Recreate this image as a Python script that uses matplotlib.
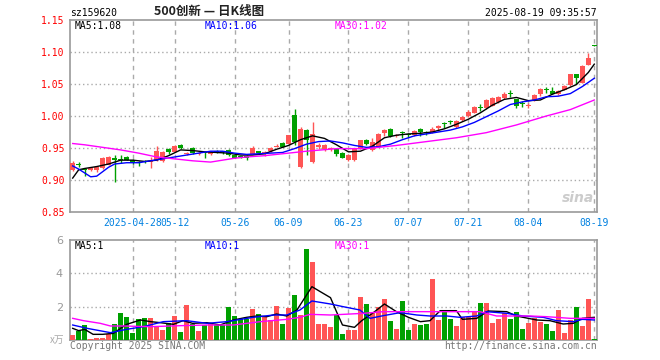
import matplotlib
matplotlib.use("Agg")
import matplotlib.pyplot as plt
import numpy as np

# 日K数据 (2025-04-14 ~ 2025-08-19, 88 个交易日)
opens = [0.916, 0.925, 0.917, 0.916, 0.915, 0.918, 0.924, 0.933, 0.933, 0.936,
         0.932, 0.927, 0.929, 0.928, 0.931, 0.929, 0.948, 0.944, 0.954, 0.941,
         0.950, 0.941, 0.943, 0.940, 0.945, 0.944, 0.947, 0.939, 0.937, 0.9375,
         0.941, 0.945, 0.942, 0.945, 0.952, 0.958, 0.956, 1.001, 0.921, 0.978,
         0.928, 0.951, 0.948, 0.949, 0.948, 0.942, 0.931, 0.931, 0.950, 0.963,
         0.947, 0.952, 0.974, 0.980, 0.969, 0.974, 0.971, 0.970, 0.980, 0.974,
         0.974, 0.981, 0.988, 0.991, 0.983, 0.993, 1.000, 1.005, 1.014, 1.012,
         1.016, 1.022, 1.028, 1.036, 1.026, 1.020, 1.016, 1.025, 1.034, 1.042,
         1.039, 1.034, 1.041, 1.048, 1.065, 1.052, 1.080, 1.111]
highs = [0.929, 0.928, 0.919, 0.920, 0.922, 0.936, 0.938, 0.939, 0.939, 0.938,
         0.933, 0.929, 0.931, 0.936, 0.953, 0.946, 0.950, 0.955, 0.956, 0.944,
         0.951, 0.944, 0.944, 0.945, 0.947, 0.945, 0.948, 0.940, 0.938, 0.939,
         0.953, 0.946, 0.946, 0.951, 0.956, 0.959, 0.971, 1.011, 0.983, 0.979,
         0.990, 0.958, 0.957, 0.951, 0.949, 0.943, 0.940, 0.949, 0.963, 0.964,
         0.966, 0.973, 0.979, 0.981, 0.972, 0.976, 0.973, 0.978, 0.981, 0.976,
         0.983, 0.986, 0.991, 0.994, 0.994, 1.000, 1.010, 1.016, 1.018, 1.026,
         1.029, 1.031, 1.037, 1.040, 1.027, 1.024, 1.020, 1.034, 1.044, 1.046,
         1.045, 1.041, 1.048, 1.066, 1.066, 1.079, 1.099, 1.111]
lows = [0.914, 0.920, 0.906, 0.914, 0.912, 0.917, 0.923, 0.897, 0.926, 0.931,
        0.925, 0.922, 0.926, 0.918, 0.930, 0.928, 0.940, 0.943, 0.949, 0.939,
        0.940, 0.939, 0.934, 0.939, 0.942, 0.940, 0.938, 0.934, 0.934, 0.932,
        0.940, 0.941, 0.938, 0.944, 0.951, 0.951, 0.955, 0.955, 0.919, 0.939,
        0.926, 0.948, 0.946, 0.946, 0.938, 0.934, 0.930, 0.930, 0.949, 0.955,
        0.946, 0.951, 0.969, 0.967, 0.967, 0.965, 0.967, 0.969, 0.968, 0.971,
        0.973, 0.977, 0.982, 0.988, 0.982, 0.992, 0.999, 1.004, 1.008, 1.011,
        1.015, 1.021, 1.027, 1.030, 1.012, 1.014, 1.012, 1.024, 1.032, 1.036,
        1.034, 1.033, 1.040, 1.047, 1.050, 1.051, 1.079, 1.110]
closes = [0.926, 0.924, 0.916, 0.919, 0.920, 0.935, 0.936, 0.932, 0.931, 0.932,
          0.926, 0.926, 0.928, 0.930, 0.946, 0.944, 0.944, 0.953, 0.950, 0.942,
          0.942, 0.942, 0.942, 0.944, 0.944, 0.943, 0.939, 0.935, 0.936, 0.934,
          0.950, 0.942, 0.943, 0.950, 0.953, 0.952, 0.970, 0.960, 0.980, 0.962,
          0.972, 0.955, 0.955, 0.950, 0.941, 0.935, 0.939, 0.948, 0.962, 0.956,
          0.960, 0.972, 0.978, 0.968, 0.970, 0.973, 0.970, 0.977, 0.975, 0.973,
          0.980, 0.984, 0.987, 0.990, 0.992, 0.998, 1.007, 1.014, 1.013, 1.025,
          1.028, 1.030, 1.035, 1.035, 1.016, 1.019, 1.017, 1.033, 1.042, 1.041,
          1.035, 1.039, 1.047, 1.065, 1.059, 1.078, 1.091, 1.110]
# 成交量 (万)
volumes = [0.30, 0.56, 0.90, 0.06, 0.12, 0.14, 0.34, 0.94, 1.64, 1.38,
           0.44, 1.24, 1.32, 1.32, 0.80, 0.60, 1.04, 1.44, 0.48, 2.10,
           0.96, 0.56, 0.88, 1.04, 0.88, 0.88, 1.96, 1.44, 1.26, 1.28,
           1.86, 1.54, 1.36, 1.20, 2.04, 0.96, 1.92, 2.70, 1.50, 5.46,
           4.68, 0.96, 0.96, 0.76, 1.50, 0.36, 0.60, 0.60, 2.60, 2.16,
           1.60, 1.96, 2.46, 1.14, 0.66, 2.34, 0.60, 0.96, 0.90, 0.96,
           3.66, 1.20, 1.74, 1.26, 0.84, 1.36, 1.36, 1.70, 2.24, 2.24,
           1.04, 1.26, 1.60, 1.26, 1.70, 0.66, 1.04, 1.34, 1.10, 0.96,
           0.56, 1.80, 0.44, 1.20, 1.98, 0.84, 2.46, 0.06]

# 均线 (从图上读取: 位置索引, 数值)
ma5_idx = [0, 1, 2, 4, 6, 8, 10, 12, 14, 16, 18, 20, 22, 24, 26, 28, 30, 32, 34, 36,
           38, 40, 42, 44, 46, 48, 50, 52, 54, 56, 58, 60, 62, 64, 66, 68, 70, 72, 74,
           76, 78, 80, 82, 84, 86, 87]
ma5_val = [0.903, 0.916, 0.918, 0.921, 0.925, 0.931, 0.931, 0.929, 0.931, 0.938, 0.947,
           0.946, 0.944, 0.943, 0.942, 0.939, 0.939, 0.941, 0.948, 0.954, 0.963, 0.969,
           0.965, 0.955, 0.944, 0.945, 0.953, 0.966, 0.970, 0.972, 0.973, 0.975, 0.980,
           0.987, 0.995, 1.005, 1.017, 1.026, 1.029, 1.024, 1.025, 1.034, 1.041, 1.049,
           1.068, 1.081]
ma10_idx = [0, 1, 2, 3, 4, 5, 6, 7, 9, 11, 13, 15, 17, 19, 21, 23, 25, 27, 29, 31, 33,
            35, 37, 39, 41, 43, 45, 47, 49, 51, 53, 55, 57, 59, 61, 63, 65, 67, 69, 71,
            73, 75, 77, 79, 81, 83, 85, 87]
ma10_val = [0.922, 0.917, 0.911, 0.905, 0.906, 0.913, 0.920, 0.925, 0.927, 0.927, 0.930,
            0.933, 0.936, 0.939, 0.942, 0.945, 0.945, 0.942, 0.940, 0.941, 0.942, 0.943,
            0.949, 0.956, 0.960, 0.961, 0.958, 0.954, 0.951, 0.952, 0.956, 0.963, 0.969,
            0.972, 0.975, 0.978, 0.983, 0.990, 0.999, 1.008, 1.018, 1.022, 1.025, 1.030,
            1.031, 1.035, 1.046, 1.059]
ma30_idx = [0, 2, 5, 8, 11, 14, 17, 20, 23, 25, 27, 29, 32, 35, 39, 44, 49, 54, 59, 64,
            69, 74, 79, 83, 87]
ma30_val = [0.957, 0.955, 0.951, 0.947, 0.942, 0.936, 0.933, 0.930, 0.928, 0.931, 0.934,
            0.936, 0.938, 0.941, 0.945, 0.949, 0.949, 0.954, 0.960, 0.966, 0.974, 0.986,
            1.000, 1.010, 1.025]

vma5_idx = [0, 1, 2, 3.4, 5, 6.8, 8, 9, 11.3, 13, 14.6, 16.8, 18.4, 20, 22.4, 24.6, 26.8,
            29, 30.7, 32.4, 34, 35.7, 37.4, 39.9, 41.3, 43, 44, 45, 47, 48.2, 50, 52, 54,
            56, 58, 59.6, 61.3, 64, 65, 67.4, 69.3, 72.4, 74, 77.4, 79.6, 81.8, 83.5, 85, 87]
vma5_val = [0.70, 0.56, 0.64, 0.34, 0.34, 0.40, 0.70, 0.94, 1.20, 1.10, 1.04, 0.94, 1.16,
            1.00, 1.04, 0.90, 1.20, 1.36, 1.44, 1.40, 1.56, 1.44, 1.80, 3.20, 2.90, 2.54,
            1.70, 0.90, 0.76, 1.16, 1.60, 2.16, 1.70, 1.36, 1.10, 1.16, 1.76, 1.76, 1.24,
            1.30, 1.74, 1.70, 1.44, 1.20, 1.16, 0.96, 1.00, 1.30, 1.36]
vma10_idx = [0, 2.4, 6.3, 9, 11.8, 15.1, 19, 22.4, 25.7, 30.1, 33.5, 35.7, 37.9, 39.9,
             43, 45.1, 47.9, 49.6, 51.8, 54.6, 57.4, 59.6, 62.4, 64.6, 67.4, 69, 72.4,
             75.1, 78.5, 80.7, 83.5, 85, 87]
vma10_val = [0.90, 0.70, 0.44, 0.64, 0.80, 1.10, 1.16, 1.00, 1.10, 1.36, 1.50, 1.50, 1.80,
             2.34, 2.16, 2.00, 1.80, 1.30, 1.46, 1.64, 1.50, 1.44, 1.44, 1.36, 1.44, 1.70,
             1.60, 1.44, 1.36, 1.16, 1.10, 1.24, 1.20]
vma30_idx = [0, 1.8, 4.6, 6.3, 8.5, 13, 18, 22.4, 26.8, 31.3, 35.7, 37.9, 39.6, 43, 48.5,
             51.8, 59.6, 67.9, 70.7, 76.3, 79, 83, 87]
vma30_val = [1.30, 1.16, 1.00, 0.84, 0.84, 0.80, 0.86, 0.90, 0.90, 1.10, 1.24, 1.36, 1.54,
             1.50, 1.60, 1.70, 1.70, 1.70, 1.44, 1.44, 1.40, 1.30, 1.30]

tick_idx = [10, 17, 27, 36, 46, 56, 66, 76, 87]
tick_labels = ["2025-04-28", "05-12", "05-26", "06-09", "06-23", "07-07", "07-21",
               "08-04", "08-19"]
price_ticks = [0.85, 0.90, 0.95, 1.00, 1.05, 1.10, 1.15]
vol_ticks = [2, 4, 6]

RED = "#ff5555"
GREEN = "#00a000"
GRID = "#aaaaaa"
FRAME = "#999999"
MONO = "DejaVu Sans Mono"
CJK = ["Noto Sans CJK SC", "DejaVu Sans"]

W, H = 660, 360


def fx(x, y):
    return x / W, 1 - y / H


fig = plt.figure(figsize=(6.6, 3.6), dpi=100)
ax = fig.add_axes([70 / W, 1 - 212 / H, 527 / W, 192 / H])
axv = fig.add_axes([70 / W, 1 - 340 / H, 527 / W, 100 / H])

x = np.arange(len(closes))
o = np.array(opens)
c = np.array(closes)
colors = np.where(c > o, RED, GREEN)

# 网格
for a in (ax, axv):
    for t in tick_idx:
        a.axvline(t, color=GRID, lw=1, ls=(0, (3.2, 3.2)), zorder=0)
    for s in a.spines.values():
        s.set_color(FRAME)
        s.set_linewidth(1.2)
    a.set_xlim(-0.45, 87.45)
for y in price_ticks[1:-1]:
    ax.axhline(y, color=GRID, lw=1, ls=(0, (1, 2)), zorder=0)
for y in vol_ticks[:-1]:
    axv.axhline(y, color=GRID, lw=1, ls=(0, (1, 2)), zorder=0)

# K线
ax.vlines(x, lows, highs, colors=colors, lw=1, zorder=2)
body_h = np.maximum(np.abs(c - o), 0.0016)
ax.bar(x, body_h, bottom=np.minimum(o, c), width=0.8, color=colors, lw=0, zorder=3)
ax.plot(ma5_idx, ma5_val, color="black", lw=1, zorder=4)
ax.plot(ma10_idx, ma10_val, color="#0000ff", lw=1, zorder=4)
ax.plot(ma30_idx, ma30_val, color="#ff00ff", lw=1, zorder=4)
ax.set_ylim(0.85, 1.15)
ax.set_yticks(price_ticks)
ax.set_yticklabels([f"{v:.2f}" for v in price_ticks], color="red", fontsize=7,
                   family=MONO)
ax.set_xticks(tick_idx)
ax.set_xticklabels(tick_labels, color="#0080e0", fontsize=7, family=MONO)
ax.tick_params(length=0, pad=4)

# 成交量
axv.bar(x, volumes, width=0.8, color=colors, lw=0, zorder=3)
axv.plot(vma5_idx, vma5_val, color="black", lw=1, zorder=4)
axv.plot(vma10_idx, vma10_val, color="#0000ff", lw=1, zorder=4)
axv.plot(vma30_idx, vma30_val, color="#ff00ff", lw=1, zorder=4)
axv.set_ylim(0, 6)
axv.set_yticks(vol_ticks)
axv.set_yticklabels([str(v) for v in vol_ticks], color="#999999", fontsize=8)
axv.set_xticks([])
axv.tick_params(length=0, pad=5)

# 文字
fig.text(*fx(70, 13), "sz159620", family=MONO, fontsize=7, va="center")
fig.text(*fx(209, 12), "500创新 — 日K线图", family=CJK, fontsize=9, va="center",
         ha="center", color="#222222", weight="bold")
fig.text(*fx(597, 13), "2025-08-19 09:35:57", family=MONO, fontsize=7, va="center",
         ha="right")
fig.text(*fx(75, 26), "MA5:1.08", family=MONO, fontsize=7, va="center")
fig.text(*fx(205, 26), "MA10:1.06", family=MONO, fontsize=7, va="center", color="#0000ff")
fig.text(*fx(335, 26), "MA30:1.02", family=MONO, fontsize=7, va="center", color="#ff00ff")
fig.text(*fx(75, 246), "MA5:1", family=MONO, fontsize=7, va="center")
fig.text(*fx(205, 246), "MA10:1", family=MONO, fontsize=7, va="center", color="#0000ff")
fig.text(*fx(335, 246), "MA30:1", family=MONO, fontsize=7, va="center", color="#ff00ff")
fig.text(*fx(64, 340), "x万", family=CJK, fontsize=7, va="center", ha="right",
         color="#aaaaaa")
fig.text(*fx(70, 346), "Copyright 2025 SINA.COM", family=MONO, fontsize=7,
         va="center", color="#777777")
fig.text(*fx(597, 346), "http://finance.sina.com.cn", family=MONO, fontsize=7,
         va="center", ha="right", color="#777777")
fig.text(*fx(578, 198), "sina", fontsize=10, style="italic", weight="bold",
         va="center", ha="center", color="#cccccc")

fig.savefig("out.png", dpi=100)
